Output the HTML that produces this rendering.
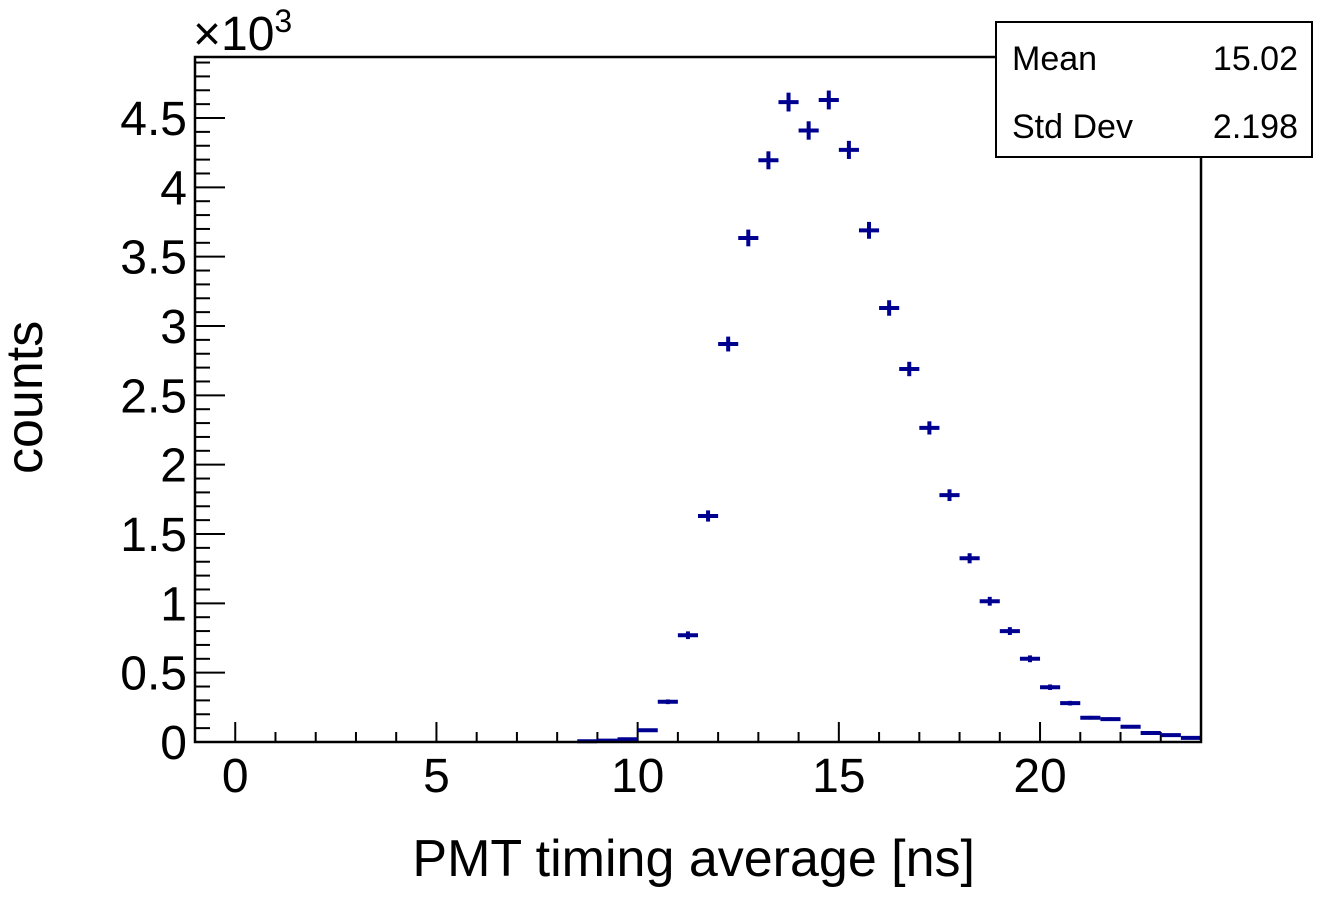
<!DOCTYPE html>
<html><head><meta charset="utf-8"><style>
body{margin:0;background:#fff}
svg text{font-family:"Liberation Sans",Helvetica,sans-serif;fill:#000}
</style></head><body>
<svg id="c" width="1322" height="908">
<rect width="1322" height="908" fill="#fff"/>
<g id="ticks"></g>
<g id="marks"></g>
<rect x="195" y="57" width="1006" height="685" fill="none" stroke="#000" stroke-width="2.5"/>
<text x="193" y="50" font-size="48">×10<tspan font-size="32" dy="-18">3</tspan></text>
<text x="975" y="876" font-size="52" text-anchor="end">PMT timing average [ns]</text>
<text transform="translate(42,474) rotate(-90)" font-size="52">counts</text>
<g>
<rect x="996" y="22" width="316" height="135" fill="#fff" stroke="#000" stroke-width="2"/>
<text x="1012" y="70" font-size="34">Mean</text>
<text x="1298" y="70" font-size="34" text-anchor="end">15.02</text>
<text x="1012" y="138" font-size="34">Std Dev</text>
<text x="1298" y="138" font-size="34" text-anchor="end">2.198</text>
</g>
</svg>
<script>
const centers=[8.75,9.25,9.75,10.25,10.75,11.25,11.75,12.25,12.75,13.25,13.75,14.25,14.75,15.25,15.75,16.25,16.75,17.25,17.75,18.25,18.75,19.25,19.75,20.25,20.75,21.25,21.75,22.25,22.75,23.25,23.75];
const counts=[5,10,20,85,290,770,1630,2870,3635,4195,4615,4410,4630,4270,3690,3130,2690,2265,1780,1325,1015,800,600,395,280,175,165,110,65,50,30];
const xTickLabels=[0,5,10,15,20];
const yTickLabels=["0","0.5","1","1.5","2","2.5","3","3.5","4","4.5"];
const X0=195,X1=1201,Y0=742,Y1=57,xmin=-1,xmax=24,ymax=4.94;
const xs=v=>X0+(v-xmin)/(xmax-xmin)*(X1-X0);
const ys=v=>Y0-(v/1000)/ymax*(Y0-Y1);
const NS="http://www.w3.org/2000/svg";
function mk(p,tag,a){const e=document.createElementNS(NS,tag);for(const k in a)e.setAttribute(k,a[k]);p.appendChild(e);return e;}
const T=document.getElementById('ticks'),M=document.getElementById('marks');
for(let i=0;i<=24;i++){const x=xs(i),maj=i%5===0;
 const l=mk(T,'line',{x1:x,x2:x,y1:Y0,y2:Y0-(maj?20:10),stroke:'#000','stroke-width':2});
 
 }
xTickLabels.forEach(v=>{const t=mk(T,'text',{x:xs(v),y:792,'font-size':48,'text-anchor':'middle'});t.textContent=v;
 
 });
for(let i=0;i<=49;i++){const y=ys(i*100),maj=i%5===0;
 const l=mk(T,'line',{x1:X0,x2:X0+(maj?30:15),y1:y,y2:y,stroke:'#000','stroke-width':2});
 
 }
yTickLabels.forEach((s,i)=>{const t=mk(T,'text',{x:187,y:ys(i*500)+17,'font-size':48,'text-anchor':'end'});t.textContent=s;
 
 });
centers.forEach((c,i)=>{const n=counts[i],g=mk(M,'g',{stroke:'#000090','stroke-width':4});
 
 
 const y=ys(n),e=Math.sqrt(n);
 mk(g,'line',{x1:xs(c-0.25),x2:xs(c+0.25),y1:y,y2:y});
 mk(g,'line',{x1:xs(c),x2:xs(c),y1:ys(n+e),y2:ys(Math.max(0,n-e))});});
</script>
</body></html>
